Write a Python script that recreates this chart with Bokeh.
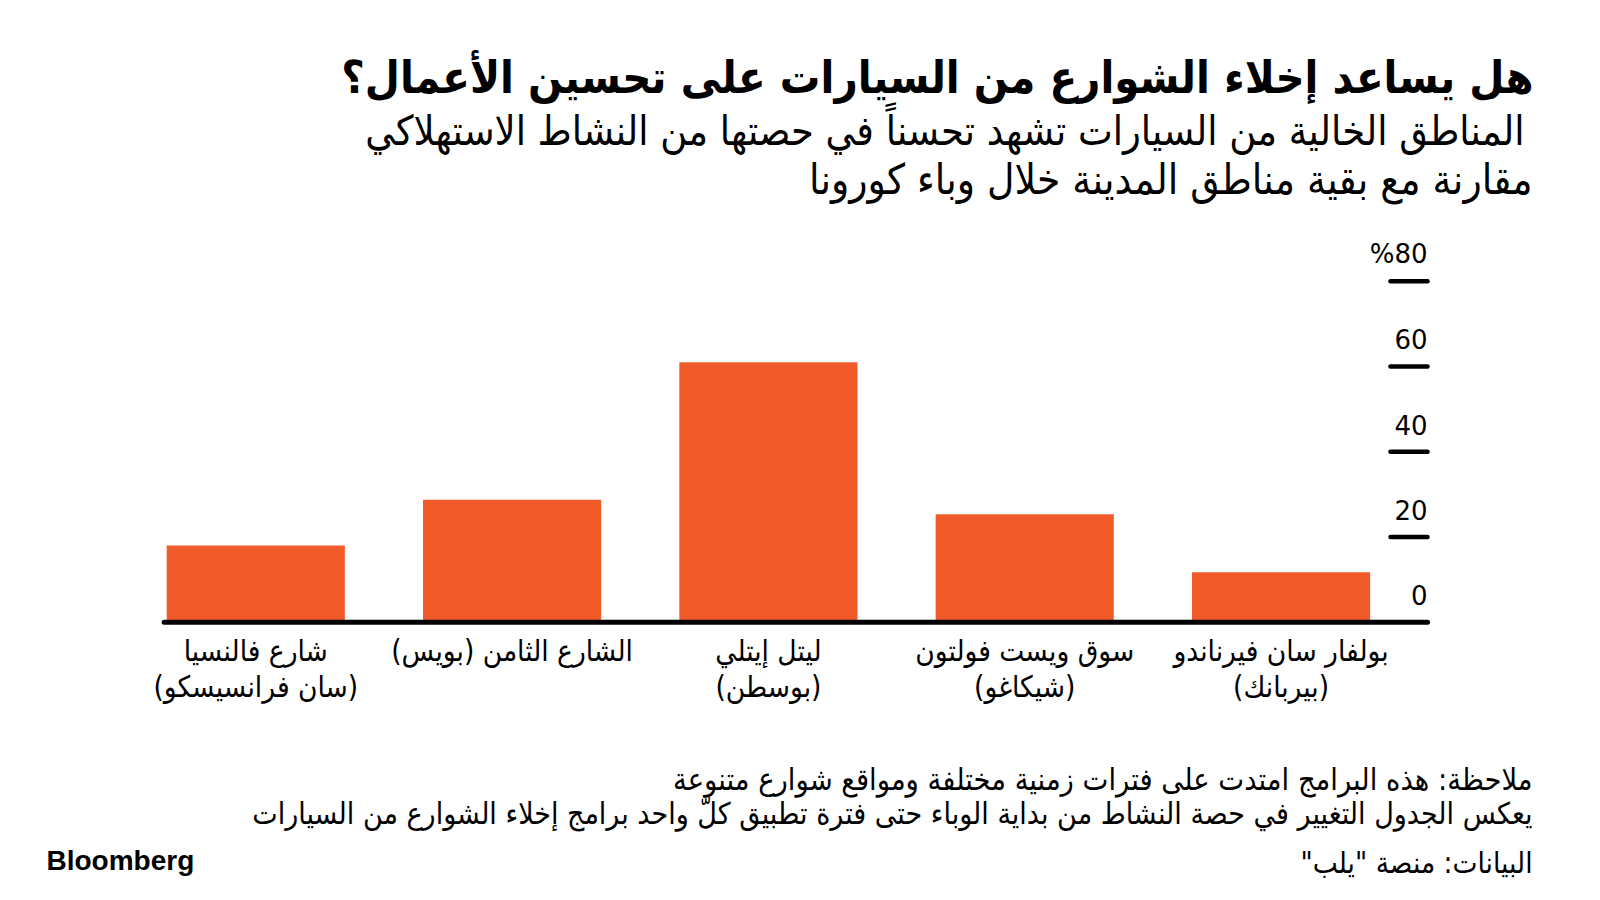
from bokeh.plotting import figure
from bokeh.models import Range1d
from bokeh.core.properties import value
from bokeh.embed import file_html
from bokeh.resources import INLINE

RLM = "\u200f"

# ---------------- data ----------------
# categories in right-to-left order (index 0 is the rightmost bar)
categories = ["بولفار سان فيرناندو", "سوق ويست فولتون", "ليتل إيتلي", "الشارع الثامن", "شارع فالنسيا"]
cities = ["بيربانك", "شيكاغو", "بوسطن", "بويس", "سان فرانسيسكو"]
share_change = [11.7, 25.3, 61.0, 28.7, 18.0]

label_line1 = ["بولفار سان فيرناندو", "سوق ويست فولتون", "ليتل إيتلي", "الشارع الثامن (بويس)" + RLM, "شارع فالنسيا"]
label_line2 = ["(بيربانك)", "(شيكاغو)", "(بوسطن)", "", "(سان فرانسيسكو)"]

y_ticks = [0, 20, 40, 60, 80]
y_tick_labels = ["0", "20", "40", "60", "%80"]

title = "هل يساعد إخلاء الشوارع من السيارات على تحسين الأعمال؟"
subtitle = ["المناطق الخالية من السيارات تشهد تحسناً في حصتها من النشاط الاستهلاكي",
            "مقارنة مع بقية مناطق المدينة خلال وباء كورونا"]
notes = ["ملاحظة: هذه البرامج امتدت على فترات زمنية مختلفة ومواقع شوارع متنوعة",
         "يعكس الجدول التغيير في حصة النشاط من بداية الوباء حتى فترة تطبيق كلّ واحد برامج إخلاء الشوارع من السيارات"]
source = "البيانات: منصة \"يلب\"" + RLM
brand = "Bloomberg"

# ---------------- layout ----------------
W, H = 1584, 884
BAR_COLOR = "#F15A29"
AR_FONT = "DejaVu Sans Condensed"
LAT_FONT = "Liberation Sans"
NUM_FONT = "DejaVu Sans"

x_pos = list(range(len(categories)))
bar_w = 0.695
axis_right = -0.5716
tick_left = -0.427
base_left = len(categories) - 1 + bar_w / 2 + 0.01

p = figure(width=W, height=H, output_backend="svg", toolbar_location=None,
           x_range=Range1d(4.996, -1.184), y_range=Range1d(-61.54, 145.85),
           x_axis_type=None, y_axis_type=None,
           min_border=0, min_border_left=0, min_border_right=0,
           min_border_top=0, min_border_bottom=0)
p.grid.visible = False
p.outline_line_color = None
p.background_fill_color = "white"
p.border_fill_color = "white"
p.extra_x_ranges = {"px": Range1d(0, W)}
p.extra_y_ranges = {"py": Range1d(H, 0)}

# bars
p.vbar(x=x_pos, top=share_change, bottom=0, width=bar_w, fill_color=BAR_COLOR, line_color=None)

# baseline and tick marks
p.segment(x0=[base_left], x1=[axis_right], y0=[0], y1=[0], line_color="black", line_width=5, line_cap="round")
p.segment(x0=[tick_left] * 4, x1=[axis_right] * 4, y0=y_ticks[1:], y1=y_ticks[1:],
          line_color="black", line_width=4.5, line_cap="round")
p.text(x=[axis_right] * len(y_ticks), y=y_ticks, text=y_tick_labels, text_align="right",
       text_baseline="alphabetic", y_offset=-27, text_font=value(NUM_FONT),
       text_font_size="26px", text_color="black")

# category labels
p.text(x=x_pos, y=[0] * 5, text=label_line1, text_align="center", text_baseline="middle",
       y_offset=29, text_font=value(AR_FONT), text_font_size="29.5px", text_color="black")
p.text(x=x_pos, y=[0] * 5, text=label_line2, text_align="center", text_baseline="middle",
       y_offset=65, text_font=value(AR_FONT), text_font_size="29.5px", text_color="black")

# title / subtitle / notes (pixel space)
def ptext(x, y, t, size, bold=False, align="right", font=AR_FONT):
    p.text(x=[x], y=[y], text=[t], x_range_name="px", y_range_name="py",
           text_align=align, text_baseline="middle", text_font=value(font),
           text_font_size=size, text_font_style="bold" if bold else "normal",
           text_color="black")

ptext(1533, 76.5, title, "45px", bold=True)
ptext(1524, 130.6, subtitle[0], "41px")
ptext(1532, 178.6, subtitle[1], "42px")
ptext(1532, 778.6, notes[0], "30.5px")
ptext(1532, 813, notes[1], "30px")
ptext(1532, 862, source, "29.5px")
ptext(46, 860, brand, "28px", bold=True, align="left", font=LAT_FONT)

open("out.html", "w").write(file_html(p, INLINE))
